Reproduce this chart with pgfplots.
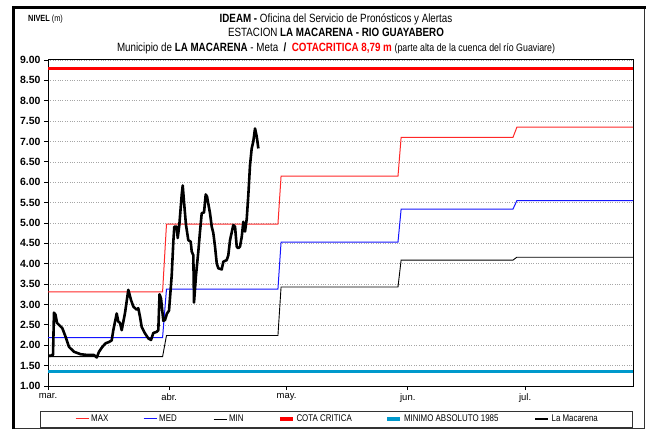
\documentclass[border=0pt]{standalone}
\usepackage{pgfplots}
\pgfplotsset{compat=1.18}
\usepackage{fontspec}
\setmainfont{Liberation Sans}
\newfontfamily\narrow{Liberation Sans}[FakeStretch=0.82]
\definecolor{minabs}{RGB}{0,153,204}
\definecolor{maxred}{RGB}{255,40,40}
\definecolor{medblue}{RGB}{20,20,255}

\begin{document}
\begin{tikzpicture}[x=1bp,y=1bp]
\useasboundingbox (0,0) rectangle (648,430);
% outer frame
\draw[line width=1bp,black!80] (644,422) -- (644,2) -- (13,2);
\draw[line width=3bp] (13,1) -- (13,422) -- (645.5,422);
% titles
\node[anchor=base west,font=\narrow\fontsize{9}{10}\selectfont,inner sep=0] at (28,408) {\textbf{NIVEL} (m)};
\node[anchor=base,font=\narrow\fontsize{12}{14}\selectfont,inner sep=0] at (336,407.5) {\textbf{IDEAM -} Oficina del Servicio de Pronósticos y Alertas};
\node[anchor=base,font=\narrow\fontsize{12}{14}\selectfont,inner sep=0] at (336,393.5) {ESTACION \textbf{LA MACARENA - RIO GUAYABERO}};
\node[anchor=base,font=\narrow\fontsize{12}{14}\selectfont,inner sep=0] at (336,378.5) {Municipio de \textbf{LA MACARENA} - Meta \ \textbf{/} \ \textcolor{red}{\textbf{COTACRITICA 8,79 m}} {\fontsize{10.8}{12}\selectfont(parte alta de la cuenca del río Guaviare)}};
\begin{axis}[
  at={(48bp,44bp)}, anchor=south west,
  scale only axis, width=585bp, height=326bp,
  xmin=0, xmax=149.6, ymin=1, ymax=9,
  xtick={0,31,61,92,122},
  xticklabels={mar.,abr.,may.,jun.,jul.},
  ytick={1,1.5,2,2.5,3,3.5,4,4.5,5,5.5,6,6.5,7,7.5,8,8.5,9},
  /pgf/number format/assume math mode=true,
  yticklabel style={font=\fontsize{10.5}{12}\selectfont\bfseries,
    /pgf/number format/fixed, /pgf/number format/fixed zerofill, /pgf/number format/precision=2},
  xticklabel style={font=\fontsize{9.5}{11}\selectfont},
  ymajorgrids,
  grid style={dotted, black!35, line width=0.7bp},
  tick align=outside, major tick length=4bp,
  tick style={black, line width=0.8bp},
  tick pos=left,
  axis line style={black, line width=1bp},
  legend columns=6,
  legend style={draw=none, fill=none, at={(0.0410,-0.1012)}, anchor=west,
    font=\narrow\fontsize{9.7}{11}\selectfont,
    /tikz/every even column/.append style={column sep=0pt}},
  legend cell align=left,
  legend image code/.code={\draw[#1] (0bp,0bp) -- (13bp,0bp);},
]
\addplot[maxred, line width=1bp] coordinates {(0,3.31)(29.3,3.31)(30.3,4.97)(58.8,4.97)(59.6,6.15)(89.5,6.15)(90.3,7.10)(118.9,7.10)(119.9,7.35)(149.6,7.35)};
\addlegendentry{\makebox[50bp][l]{MAX}}
\addplot[medblue, line width=1bp] coordinates {(0,2.19)(29.3,2.19)(30.3,3.38)(58.8,3.38)(59.6,4.53)(89.5,4.53)(90.3,5.34)(118.9,5.34)(119.9,5.55)(149.6,5.55)};
\addlegendentry{\makebox[52bp][l]{MED}}
\addplot[black, line width=0.9bp] coordinates {(0,1.72)(29.3,1.72)(30.3,2.24)(58.8,2.24)(59.6,3.43)(89.5,3.43)(90.3,4.09)(118.9,4.09)(119.9,4.16)(149.6,4.16)};
\addlegendentry{\makebox[47bp][l]{MIN}}
\addplot[red, line width=3.5bp] coordinates {(0,8.79)(149.6,8.79)};
\addlegendentry{\makebox[87bp][l]{COTA CRITICA}}
\addplot[minabs, line width=3.5bp] coordinates {(0,1.35)(149.6,1.35)};
\addlegendentry{\makebox[128bp][l]{MINIMO ABSOLUTO 1985}}
\addplot[black, line width=2.6bp, line join=round] coordinates {(0,1.75)(0.51,1.74)(1.28,1.76)(1.53,2.80)(1.92,2.75)(2.30,2.55)(2.81,2.50)(3.66,2.42)(4.53,2.20)(5.37,1.96)(6.65,1.84)(8.36,1.78)(10.23,1.76)(11.76,1.76)(12.46,1.70)(13.04,1.84)(13.89,1.96)(14.76,2.05)(15.60,2.08)(16.29,2.12)(16.70,2.37)(17.57,2.78)(17.98,2.58)(18.41,2.55)(18.85,2.37)(19.69,2.79)(20.54,3.36)(21.23,3.11)(21.82,2.95)(22.69,2.87)(23.09,2.91)(23.53,2.70)(23.96,2.45)(24.81,2.29)(25.65,2.17)(26.34,2.13)(26.93,2.30)(27.80,2.33)(28.21,2.37)(28.52,3.25)(28.90,3.15)(29.49,2.60)(29.92,2.62)(30.43,2.78)(30.95,2.85)(31.64,3.72)(32.05,4.54)(32.30,4.91)(32.92,4.91)(33.17,4.63)(33.58,4.95)(34.19,5.69)(34.45,5.92)(34.78,5.52)(35.29,4.95)(35.88,4.58)(36.50,4.54)(36.75,4.30)(37.16,4.21)(37.34,3.05)(37.85,3.72)(38.44,4.30)(38.87,4.79)(39.31,5.24)(39.90,5.26)(40.33,5.70)(40.66,5.65)(41.43,5.24)(41.87,4.91)(42.28,4.75)(42.71,4.42)(43.15,4.01)(43.55,3.89)(44.42,3.86)(44.83,4.05)(45.70,4.09)(46.11,4.21)(46.55,4.58)(47.39,4.95)(47.83,4.91)(48.26,4.42)(48.67,4.38)(49.10,4.42)(49.54,4.66)(49.95,5.03)(50.38,4.79)(50.82,5.10)(51.23,5.69)(51.66,6.42)(52.09,6.83)(52.50,7.00)(52.94,7.32)(53.38,7.12)(53.79,6.83)};
\addlegendentry{La Macarena}
\end{axis}
% legend frame
\draw[line width=0.9bp, black!80] (40,3) rectangle (632,19);
\end{tikzpicture}
\end{document}
